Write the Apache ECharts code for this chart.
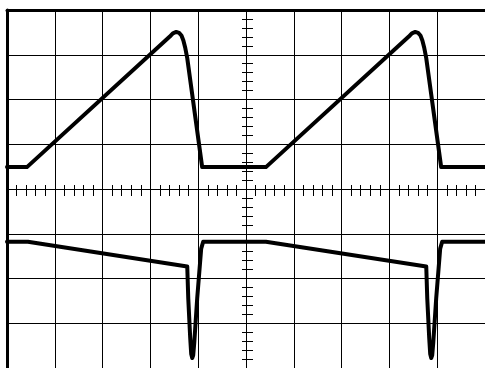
<!DOCTYPE html>
<html>
<head>
<meta charset="utf-8">
<script src="https://cdn.jsdelivr.net/npm/echarts@6/dist/echarts.min.js"></script>
<style>html,body{margin:0;padding:0;background:#fff;}#c{width:485px;height:368px;}</style>
</head>
<body>
<div id="c"></div>
<script>
// Screen divisions: 10 horizontal x 8 vertical (centre = 0)
const xDivs = [0, 10];
const yDivs = [-4, 4];

// Upper trace (ramp / sawtooth), x in divisions, y in divisions
const rampTime  = [0, 0.417, 3.40, 3.47, 3.54, 3.60, 3.65, 3.69, 3.73, 3.77, 4.083, 5.417, 8.40, 8.47, 8.54, 8.60, 8.65, 8.69, 8.73, 8.77, 9.083, 10];
const rampLevel = [0.489, 0.489, 3.40, 3.48, 3.51, 3.49, 3.43, 3.32, 3.15, 2.93, 0.489, 0.489, 3.40, 3.48, 3.51, 3.49, 3.43, 3.32, 3.15, 2.93, 0.489, 0.489];

// Lower trace (slow droop then negative spike)
const pulseTime  = [0, 0.4375, 3.771, 3.792, 3.833, 3.854, 3.875, 3.896, 3.917, 3.979, 4.0625, 4.104, 5.417, 8.771, 8.792, 8.833, 8.854, 8.875, 8.896, 8.917, 8.979, 9.0625, 9.104, 10];
const pulseLevel = [-1.178, -1.178, -1.733, -2.444, -3.333, -3.689, -3.778, -3.711, -3.444, -2.444, -1.333, -1.178, -1.178, -1.733, -2.444, -3.333, -3.689, -3.778, -3.711, -3.444, -2.444, -1.333, -1.178, -1.178];

const zip = (xs, ys) => xs.map((x, i) => [x, ys[i]]);

const chart = echarts.init(document.getElementById('c'), null, {renderer: 'canvas'});
const hidden = {show: false};
chart.setOption({
  animation: false,
  backgroundColor: '#fff',
  grid: [
    {left: 7, top: 10, width: 480, height: 360, show: false},
    {left: 7, top: 185, width: 480, height: 11},
    {left: 242, top: 10, width: 11, height: 360}
  ],
  xAxis: [
    {gridIndex: 0, type: 'value', min: xDivs[0], max: xDivs[1], interval: 1, position: 'top',
     axisLine: {show: true, onZero: false, lineStyle: {color: '#000', width: 3}}, axisTick: hidden, axisLabel: hidden,
     splitLine: {show: true, lineStyle: {color: '#000', width: 1}}},
    {gridIndex: 1, type: 'value', min: xDivs[0], max: xDivs[1], interval: 0.2, position: 'bottom',
     axisLine: hidden, axisLabel: hidden, splitLine: hidden,
     axisTick: {show: true, inside: true, length: 11, lineStyle: {color: '#000', width: 1}}},
    {gridIndex: 2, type: 'value', min: 0, max: 1, show: false}
  ],
  yAxis: [
    {gridIndex: 0, type: 'value', min: yDivs[0], max: yDivs[1], interval: 1, position: 'left',
     axisLine: {show: true, onZero: false, lineStyle: {color: '#000', width: 3}}, axisTick: hidden, axisLabel: hidden,
     splitLine: {show: true, lineStyle: {color: '#000', width: 1}}},
    {gridIndex: 1, type: 'value', min: 0, max: 1, show: false},
    {gridIndex: 2, type: 'value', min: yDivs[0], max: yDivs[1], interval: 0.2, position: 'left',
     axisLine: hidden, axisLabel: hidden, splitLine: hidden,
     axisTick: {show: true, inside: true, length: 11, lineStyle: {color: '#000', width: 1}}}
  ],
  series: [
    {type: 'line', xAxisIndex: 0, yAxisIndex: 0, data: zip(rampTime, rampLevel), showSymbol: false, z: 5,
     lineStyle: {color: '#000', width: 4, cap: 'round', join: 'round'}},
    {type: 'line', xAxisIndex: 0, yAxisIndex: 0, data: zip(pulseTime, pulseLevel), showSymbol: false, z: 5,
     lineStyle: {color: '#000', width: 4, cap: 'round', join: 'round'}}
  ]
});
</script>
</body>
</html>
